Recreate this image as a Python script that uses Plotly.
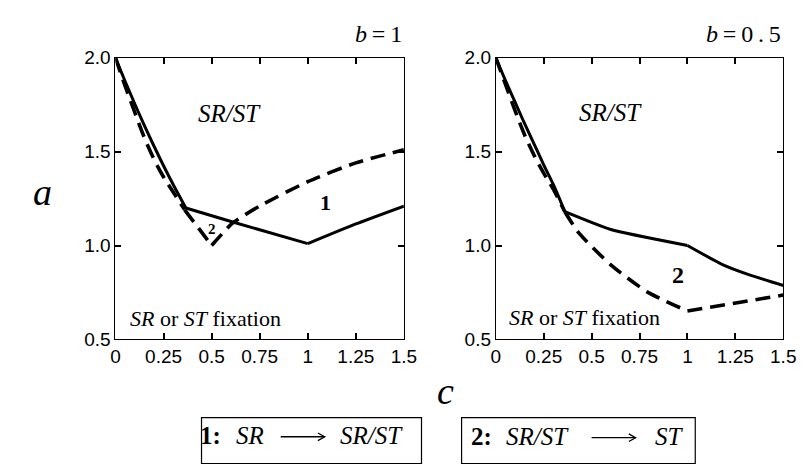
import plotly.graph_objects as go

# ---- data ----
# panel b = 1
solid1_c = [0, 0.05, 0.1, 0.15, 0.2, 0.25, 0.3, 0.366, 0.61, 1.0, 1.25, 1.5]
solid1_a = [2.0, 1.875, 1.755, 1.64, 1.53, 1.425, 1.325, 1.20, 1.125, 1.01, 1.115, 1.21]
dash1_c = [0, 0.05, 0.1, 0.15, 0.2, 0.25, 0.3, 0.36, 0.5, 0.61, 0.75, 1.0, 1.25, 1.5]
dash1_a = [2.0, 1.85, 1.71, 1.575, 1.46, 1.365, 1.285, 1.19, 1.0, 1.12, 1.21, 1.34, 1.44, 1.51]
# panel b = 0.5
solid2_c = [0, 0.05, 0.1, 0.15, 0.2, 0.25, 0.3, 0.36, 0.6, 1.0, 1.18, 1.32, 1.5]
solid2_a = [2.0, 1.88, 1.765, 1.65, 1.54, 1.43, 1.325, 1.18, 1.085, 1.0, 0.90, 0.845, 0.787]
dash2_c = [0, 0.05, 0.1, 0.15, 0.2, 0.25, 0.3, 0.36, 0.433, 0.6, 0.79, 1.0, 1.5]
dash2_a = [2.0, 1.86, 1.72, 1.59, 1.48, 1.385, 1.30, 1.18, 1.067, 0.897, 0.753, 0.651, 0.736]

x_tickvals = [0, 0.25, 0.5, 0.75, 1, 1.25, 1.5]
x_ticktext = ["0", "0.25", "0.5", "0.75", "1", "1.25", "1.5"]
y_tickvals = [0.5, 1.0, 1.5, 2.0]
y_ticktext = ["0.5", "1.0", "1.5", "2.0"]

W, H = 807, 464
SERIF = "Liberation Serif"
SANS = "Liberation Sans"

def px(x):
    return x / W

def py(y):
    return 1 - y / H

fig = go.Figure()

solid_style = dict(color="black", width=3)
dash_style = dict(color="black", width=3.6, dash="15px,8px")

def add_piece(cs, as_, style, xa, ya, smooth):
    line = dict(**style)
    if smooth:
        line.update(shape="spline", smoothing=smooth)
    fig.add_trace(go.Scatter(x=cs, y=as_, mode="lines", line=line, xaxis=xa, yaxis=ya))

# left panel
add_piece(solid1_c[:8], solid1_a[:8], solid_style, "x", "y", 1.0)
add_piece(solid1_c[7:10], solid1_a[7:10], solid_style, "x", "y", 0)
add_piece(solid1_c[9:], solid1_a[9:], solid_style, "x", "y", 0.5)
add_piece(dash1_c[:8], dash1_a[:8], dash_style, "x", "y", 1.0)
add_piece(dash1_c[7:9], dash1_a[7:9], dash_style, "x", "y", 0)
add_piece(dash1_c[8:], dash1_a[8:], dash_style, "x", "y", 0.6)
# right panel
add_piece(solid2_c[:8], solid2_a[:8], solid_style, "x2", "y2", 1.0)
add_piece(solid2_c[7:10], solid2_a[7:10], solid_style, "x2", "y2", 0.5)
add_piece(solid2_c[9:], solid2_a[9:], solid_style, "x2", "y2", 0.5)
add_piece(dash2_c[:8], dash2_a[:8], dash_style, "x2", "y2", 1.0)
add_piece(dash2_c[7:12], dash2_a[7:12], dash_style, "x2", "y2", 0.6)
add_piece(dash2_c[11:], dash2_a[11:], dash_style, "x2", "y2", 0)

ax_common = dict(showline=True, linecolor="black", linewidth=1, mirror="ticks",
                 ticks="inside", ticklen=6, tickwidth=1.5, tickcolor="black",
                 showgrid=False, zeroline=False,
                 tickfont=dict(family=SANS, size=19, color="black"))

ydom = [py(345), py(50)]
fig.update_layout(
    width=W, height=H,
    margin=dict(l=0, r=0, t=0, b=0),
    paper_bgcolor="white", plot_bgcolor="white",
    showlegend=False,
    xaxis=dict(domain=[px(113), px(408)], range=[0, 1.5], anchor="y",
               tickvals=x_tickvals, ticktext=x_ticktext, **ax_common),
    yaxis=dict(domain=ydom, range=[0.5, 2.0], anchor="x",
               tickvals=y_tickvals, ticktext=y_ticktext, **ax_common),
    xaxis2=dict(domain=[px(502), px(796)], range=[0, 1.5], anchor="y2",
                tickvals=x_tickvals, ticktext=x_ticktext, **ax_common),
    yaxis2=dict(domain=ydom, range=[0.5, 2.0], anchor="x2",
                tickvals=y_tickvals, ticktext=y_ticktext, **ax_common),
)

def ann(text, x, y, size, xanchor="center"):
    fig.add_annotation(text=text, x=px(x), y=py(y), xref="paper", yref="paper",
                       showarrow=False, xanchor=xanchor, yanchor="middle",
                       font=dict(family=SERIF, size=size, color="black"))

# panel titles
ann("<i>b</i>\u2009=\u20091", 408, 25, 24, xanchor="right")
ann("<i>b</i>\u2009=\u20090\u2009.\u20095", 796, 25, 24, xanchor="right")

# region labels
ann("<i>SR/ST</i>", 230, 108, 25)
ann("<i>SR/ST</i>", 619, 107, 25)
ann("<i>SR</i> or <i>ST</i> fixation", 205, 323, 22)
ann("<i>SR</i> or <i>ST</i> fixation", 593, 322, 22)
ann("<b>1</b>", 328, 202, 22)
ann("<b>2</b>", 212, 229, 15)
ann("<b>2</b>", 688, 278, 24)

# axis titles
ann("<i>a</i>", 38, 191, 38)
ann("<i>c</i>", 451, 399, 38)

# legend boxes
for x0, x1 in [(201, 426), (467, 706)]:
    fig.add_shape(type="rect", xref="paper", yref="paper",
                  x0=px(x0), x1=px(x1), y0=py(475), y1=py(427),
                  line=dict(color="black", width=1.2), fillcolor="rgba(0,0,0,0)")

# thin long arrows inside the legend boxes
for xs, xe, yc in [(282, 327, 447), (600, 645, 448)]:
    fig.add_shape(type="line", xref="paper", yref="paper",
                  x0=px(xs), x1=px(xe), y0=py(yc), y1=py(yc),
                  line=dict(color="black", width=1.3))
    fig.add_shape(type="path", xref="paper", yref="paper",
                  path=f"M {px(xe - 7)},{py(yc - 4)} L {px(xe)},{py(yc)} L {px(xe - 7)},{py(yc + 4)}",
                  line=dict(color="black", width=1.3))

ann("<b>1:</b>", 210, 446, 25)
ann("<i>SR</i>", 251, 446, 25)
ann("<i>SR/ST</i>", 375, 446, 25)

ann("<b>2:</b>", 487, 447, 25)
ann("<i>SR/ST</i>", 545, 447, 25)
ann("<i>ST</i>", 680, 447, 25)

fig.write_html("out.html")
